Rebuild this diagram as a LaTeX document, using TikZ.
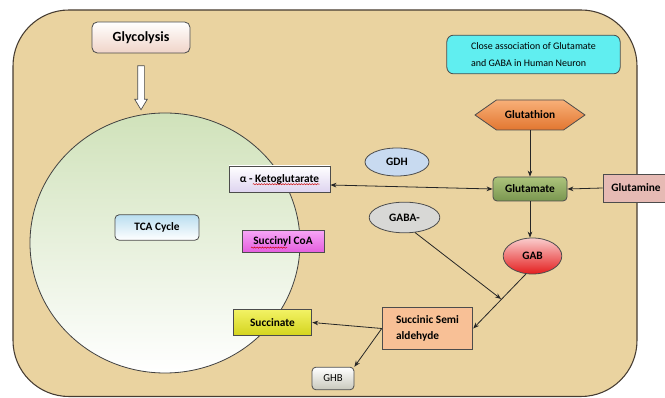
\documentclass[tikz,border=0pt]{standalone}
\usepackage{fontspec}
\setmainfont{Carlito}
\usepackage{tikz}
\usetikzlibrary{arrows.meta,positioning,shapes.geometric,shapes.symbols,shapes.arrows,decorations.pathmorphing}

\definecolor{papyrus}{RGB}{234,211,160}
\definecolor{rim}{RGB}{70,60,50}
\definecolor{tcagreen}{RGB}{208,226,186}
\definecolor{glycpink}{RGB}{240,212,200}
\definecolor{infocyan}{RGB}{96,238,240}
\definecolor{orangelt}{RGB}{248,176,120}
\definecolor{orangedk}{RGB}{226,118,48}
\definecolor{gdhblue}{RGB}{200,218,240}
\definecolor{akglav}{RGB}{222,212,240}
\definecolor{glugreenlt}{RGB}{172,196,124}
\definecolor{glugreen}{RGB}{122,150,80}
\definecolor{glnpink}{RGB}{230,186,180}
\definecolor{gabagray}{RGB}{216,216,214}
\definecolor{gabredlt}{RGB}{250,205,205}
\definecolor{gabred}{RGB}{228,30,30}
\definecolor{coalt}{RGB}{246,166,246}
\definecolor{coadk}{RGB}{228,92,222}
\definecolor{tcablue}{RGB}{186,222,240}
\definecolor{succlt}{RGB}{242,242,100}
\definecolor{succdk}{RGB}{212,212,30}
\definecolor{ssapeach}{RGB}{248,192,150}
\definecolor{ghbgray}{RGB}{200,200,188}

\begin{document}
\begin{tikzpicture}[x=0.75pt,y=-0.75pt,
  font=\fontsize{8.5}{10}\selectfont\bfseries,
  >={Stealth[length=4.5pt,width=3.5pt]},
  box/.style={draw=black!70,line width=0.6pt,inner sep=2pt,align=center},
  rbox/.style={box,rounded corners=3pt},
  oval/.style={ellipse,draw=black!70,line width=0.6pt,inner sep=1pt},
  spell/.style={red!80!black,line width=0.35pt,decorate,decoration={snake,amplitude=0.45pt,segment length=2pt}},
  a/.style={->,line width=0.6pt,black!85}]
  \useasboundingbox (0,0) rectangle (665,398);
  \draw[rim,line width=0.8pt,fill=papyrus,rounded corners=42pt] (13,10) rectangle (637,396.5);
  \path[draw=black!75,line width=0.6pt,top color=tcagreen,bottom color=white] (165,243) ellipse [x radius=135,y radius=130];
  \node[rbox,rounded corners=4pt,top color=white,bottom color=glycpink,minimum width=73.5pt,minimum height=23.25pt,font=\fontsize{10.5}{12}\selectfont\bfseries] (glyc) at (141,37.5) {Glycolysis};
  \node[single arrow,draw=black!70,line width=0.5pt,fill=white,rotate=-90,minimum height=33pt,inner sep=2.25pt,single arrow head extend=2.25pt,single arrow tip angle=62] (flow) at (141,85) {};
  \node[rbox,rounded corners=5pt,fill=infocyan,minimum width=130pt,minimum height=29pt,align=left,font=\fontsize{7.5}{12.5}\selectfont] (info) at (533.5,54.5) {Close association of Glutamate\\and GABA in Human Neuron};
  \node[signal,signal to=east and west,signal pointer angle=70,draw=black!70,line width=0.6pt,top color=orangelt,bottom color=orangedk,minimum width=82.5pt,minimum height=22.5pt] (gsh) at (530,115) {Glutathion};
  \node[oval,fill=gdhblue,minimum width=48pt,minimum height=21pt] (gdh) at (397,162) {GDH};
  \node[box,top color=white,bottom color=akglav,minimum width=75.75pt,minimum height=19.5pt] (akg) at (279.5,179) {α - Ketoglutarate};
  \node[rbox,top color=glugreenlt,bottom color=glugreen,minimum width=55.5pt,minimum height=18pt] (glu) at (530,189) {Glutamate};
  \node[box,fill=glnpink,minimum width=49.5pt,minimum height=21pt] (gln) at (636,188) {Glutamine};
  \node[oval,fill=gabagray,minimum width=53pt,minimum height=23pt] (gaba) at (404.5,217.5) {GABA-};
  \node[oval,top color=gabredlt,bottom color=gabred,minimum width=44pt,minimum height=27pt] (gab) at (532.5,256) {GAB};
  \node[box,top color=coalt,bottom color=coadk,minimum width=61.5pt,minimum height=17pt] (succoa) at (283,241.5) {Succinyl CoA};
  \node[rbox,top color=tcablue,bottom color=white,minimum width=63pt,minimum height=19pt] (tca) at (157,227.5) {TCA Cycle};
  \node[box,top color=succlt,bottom color=succdk,minimum width=59pt,minimum height=19pt] (succ) at (272.5,322.5) {Succinate};
  \node[box,fill=ssapeach,minimum width=68pt,minimum height=31pt,align=left,font=\fontsize{8.5}{12.5}\selectfont\bfseries] (ssa) at (427.5,328.5) {Succinic Semi\\aldehyde};
  \node[rbox,top color=white,bottom color=ghbgray,minimum width=31.5pt,minimum height=17pt,font=\fontsize{8}{10}\selectfont] (ghb) at (333,378.5) {GHB};
  \coordinate (meet) at (501,299);
  % spell-check marks
  \draw[spell] ([xshift=-20pt,yshift=-3.9pt]akg.center) -- ++(50pt,0);
  \draw[spell] ([xshift=-24pt,yshift=-4.6pt]succoa.center) -- ++(27pt,0);
  % links
  \draw[a,<->] ([yshift=-4.5pt]akg.east) -- (glu.west);
  \draw[a] (gsh.south) -- (glu.north);
  \draw[a] (gln.west) -- (glu.east);
  \draw[a] (glu.south) -- (glu.south |- gab.north);
  \draw[a] (gaba.-55) -- (meet);
  \draw[a] (gab.250) -- (ssa.east);
  \draw[a] (ssa.west) -- (succ.east);
  \draw[a] (ssa.west) -- (ghb.north east);
\end{tikzpicture}
\end{document}
